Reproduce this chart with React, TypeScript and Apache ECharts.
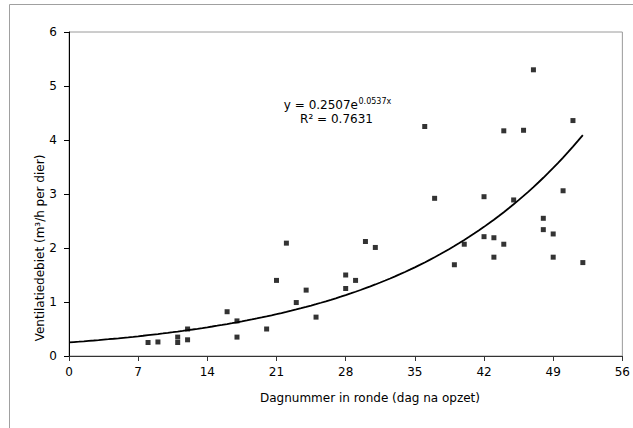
import React, { useEffect, useRef } from "react";
import * as echarts from "echarts";

const days = [8, 9, 11, 11, 12, 12, 16, 17, 17, 20, 21, 22, 23, 24, 25, 28, 28, 29, 30, 31, 36, 37, 39, 40, 42, 42, 43, 43, 44, 44, 45, 46, 47, 48, 48, 49, 49, 50, 51, 52];
const ventilation = [0.25, 0.26, 0.35, 0.25, 0.5, 0.3, 0.82, 0.65, 0.35, 0.5, 1.4, 2.09, 0.99, 1.22, 0.72, 1.5, 1.25, 1.4, 2.12, 2.01, 4.25, 2.92, 1.69, 2.07, 2.95, 2.21, 2.19, 1.83, 4.17, 2.07, 2.89, 4.18, 5.3, 2.55, 2.34, 2.26, 1.83, 3.06, 4.36, 1.73];
const xTicks = [0, 7, 14, 21, 28, 35, 42, 49, 56];
const yTicks = [0, 1, 2, 3, 4, 5, 6];
// Trendline coefficients shown in the chart: y = a * e^(b x)
const trendA = 0.2507;
const trendB = 0.0537;
const trendStart = 0;
const trendEnd = 52;
const xTitle = "Dagnummer in ronde (dag na opzet)";
const yTitle = "Ventilatiedebiet (m³/h per dier)";

export default function App() {
  const ref = useRef<HTMLDivElement>(null);
  useEffect(() => {
    document.body.style.margin = "0";
    const chart = echarts.init(ref.current!, null, { renderer: "svg" });
    const points = days.map((d, i) => [d, ventilation[i]]);
    const trend: number[][] = [];
    for (let x = trendStart; x <= trendEnd + 1e-9; x += 0.5) {
      trend.push([x, trendA * Math.exp(trendB * x)]);
    }
    const font = "DejaVu Sans, Verdana, sans-serif";
    chart.setOption({
      animation: false,
      backgroundColor: "#fff",
      textStyle: { fontFamily: font },
      grid: {
        left: 69,
        right: 9,
        top: 32,
        bottom: 72,
        show: true,
        borderColor: "#9a9a9a",
        borderWidth: 1,
      },
      xAxis: {
        type: "value",
        min: xTicks[0],
        max: xTicks[xTicks.length - 1],
        interval: 7,
        axisLine: { show: true, onZero: false, lineStyle: { color: "#333", width: 1 } },
        axisTick: { show: true, inside: false, length: 5, lineStyle: { color: "#333" } },
        axisLabel: { fontSize: 12, color: "#000", margin: 10, fontFamily: font },
        splitLine: { show: false },
      },
      yAxis: {
        type: "value",
        min: yTicks[0],
        max: yTicks[yTicks.length - 1],
        interval: 1,
        axisLine: { show: true, onZero: false, lineStyle: { color: "#000", width: 1 } },
        axisTick: { show: true, inside: false, length: 5, lineStyle: { color: "#000" } },
        axisLabel: { fontSize: 12, color: "#000", margin: 12, fontFamily: font },
        splitLine: { show: false },
      },
      graphic: [
        {
          type: "rect",
          shape: { x: 9.5, y: 4.5, width: 700, height: 500 },
          style: { fill: "none", stroke: "#a0a0a0", lineWidth: 1 },
          silent: true,
          z: -10,
        },
        {
          type: "text",
          x: 370,
          y: 398,
          style: {
            text: xTitle,
            fontSize: 12,
            fontFamily: font,
            fill: "#000",
            align: "center",
            verticalAlign: "middle",
          },
        },
        {
          type: "text",
          x: 40,
          y: 248,
          rotation: Math.PI / 2,
          style: {
            text: yTitle,
            fontSize: 12,
            fontFamily: font,
            fill: "#000",
            align: "center",
            verticalAlign: "middle",
          },
        },
        {
          type: "text",
          x: 358,
          y: 105,
          style: {
            text: "y = 0.2507e",
            fontSize: 12,
            fontFamily: font,
            fill: "#000",
            align: "right",
            verticalAlign: "middle",
          },
        },
        {
          type: "text",
          x: 358.5,
          y: 101.5,
          style: {
            text: "0.0537x",
            fontSize: 8,
            fontFamily: font,
            fill: "#000",
            align: "left",
            verticalAlign: "middle",
          },
        },
        {
          type: "text",
          x: 336.5,
          y: 118.5,
          style: {
            text: "R² = 0.7631",
            fontSize: 12,
            fontFamily: font,
            fill: "#000",
            align: "center",
            verticalAlign: "middle",
          },
        },
      ],
      series: [
        {
          type: "line",
          data: trend,
          showSymbol: false,
          symbol: "none",
          smooth: false,
          lineStyle: { color: "#000", width: 1.8 },
          z: 2,
          silent: true,
        },
        {
          type: "scatter",
          data: points,
          symbol: "rect",
          symbolSize: 5,
          itemStyle: { color: "#000" },
          z: 3,
        },
      ],
    });
    return () => chart.dispose();
  }, []);
  return (
    <div
      ref={ref}
      style={{ position: "absolute", left: 0, top: 0, width: 633, height: 428 }}
    />
  );
}
